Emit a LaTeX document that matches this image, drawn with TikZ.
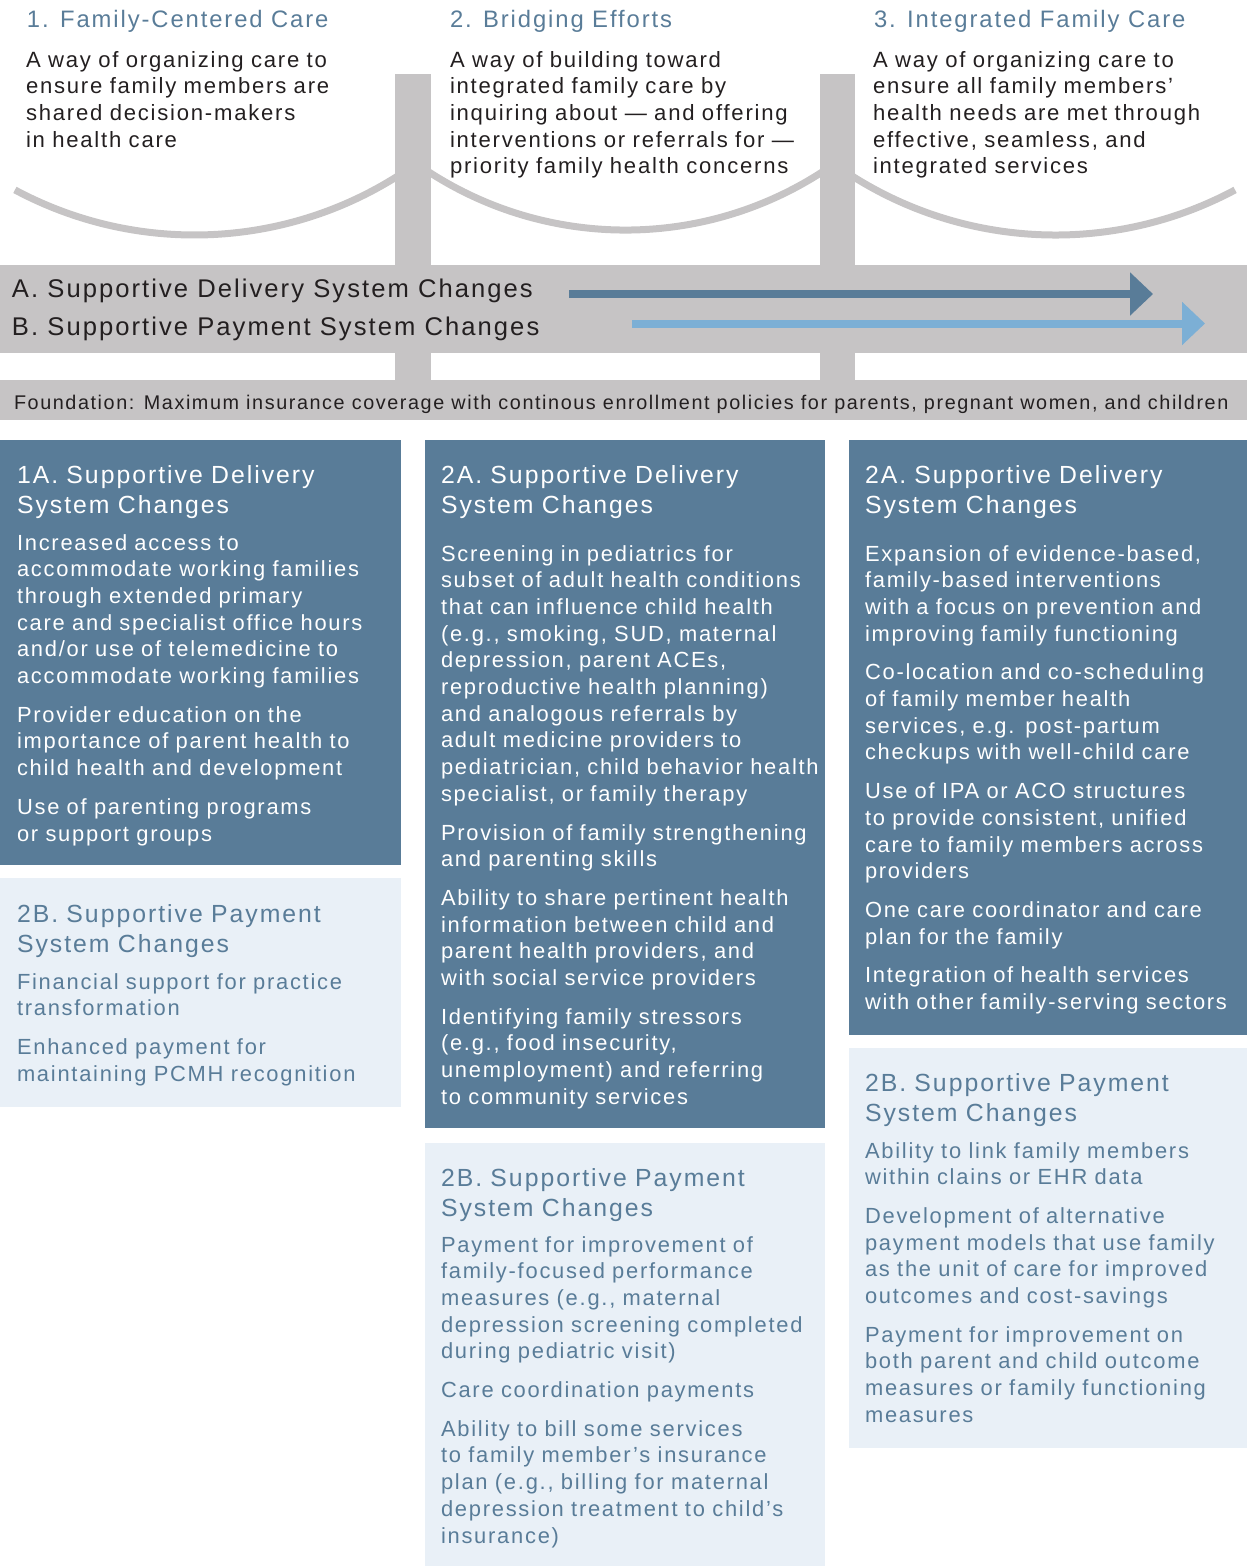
\documentclass[tikz,border=0pt]{standalone}
\usepackage{fontspec}
\setmainfont{Liberation Sans}[LetterSpace=8]
\usetikzlibrary{arrows.meta,positioning}

\definecolor{slate}{RGB}{89,124,152}
\definecolor{skyblue}{RGB}{124,175,213}
\definecolor{mist}{RGB}{233,240,247}
\definecolor{stone}{RGB}{198,196,197}
\definecolor{ink}{RGB}{35,31,32}

\begin{document}
\begin{tikzpicture}
	[
		x=1pt, y=-1pt,
		every node/.style={inner sep=0pt, outer sep=0pt},
		arc line/.style={draw=stone, line width=7pt},
		push arrow/.style={line width=8pt, -{Triangle[length=23pt,width=42pt]}}
	]
	
	\tikzstyle{Title} = [anchor=base west, text=slate, font=\fontsize{23.8}{30}\selectfont]
	\tikzstyle{Lead} = [anchor=base west, text=ink, align=left, text width=400pt, font=\fontsize{22.1}{26.7}\selectfont]
	\tikzstyle{Band} = [anchor=base west, text=ink, font=\fontsize{25.6}{30}\selectfont]
	\tikzstyle{DarkBox} = [rectangle, anchor=north west, fill=slate]
	\tikzstyle{PaleBox} = [rectangle, anchor=north west, fill=mist]
	\tikzstyle{Head} = [anchor=base west, align=left, text width=400pt, font=\fontsize{24.8}{30}\selectfont]
	\tikzstyle{Body} = [anchor=base west, align=left, text width=400pt, font=\fontsize{21.9}{26.7}\selectfont]
	
	\useasboundingbox (0,0) rectangle (1247,1566);
	
	% arcs behind the pillars
	\draw[arc line] (14.9,189.9) arc[start angle=118.2, end angle=55.5, radius=380];
	\draw[arc line] (414.8,162.4) arc[start angle=125.6, end angle=54.4, radius=362];
	\draw[arc line] (840.3,168.2) arc[start angle=124.5, end angle=61.8, radius=380];
	
	% pillars, band and foundation
	\fill[stone] (395,74) rectangle (431,380);
	\fill[stone] (820,74) rectangle (855,380);
	\fill[stone] (0,265) rectangle (1247,353);
	\fill[stone] (0,380) rectangle (1247,420);
	
	\node[Title] (t1) at (27,27) {1. Family-Centered Care};
	\node[Title] (t2) at (450,27) {2. Bridging Efforts};
	\node[Title] (t3) at (874,27) {3. Integrated Family Care};
	
	\node[Lead] (d1) at (26,67) {A way of organizing care to\\ensure family members are\\shared decision-makers\\in health care};
	\node[Lead] (d2) at (450,67) {A way of building toward\\integrated family care by\\inquiring about — and offering\\interventions or referrals for —\\priority family health concerns};
	\node[Lead] (d3) at (873,67) {A way of organizing care to\\ensure all family members’\\health needs are met through\\effective, seamless, and\\integrated services};
	
	\node[Band] (bandA) at (12,297) {A. Supportive Delivery System Changes};
	\node[Band] (bandB) at (12,335) {B. Supportive Payment System Changes};
	\node[anchor=base west, text=ink, font=\fontsize{19.8}{22}\selectfont] (found) at (14,409) {Foundation: Maximum insurance coverage with continous enrollment policies for parents, pregnant women, and children};
	
	\coordinate (aStart) at (569,294);
	\coordinate (aEnd) at (1153,294);
	\coordinate (bStart) at (632,323.5);
	\coordinate (bEnd) at (1205,323.5);
	\draw[push arrow, slate] (aStart) -- (aEnd);
	\draw[push arrow, skyblue] (bStart) -- (bEnd);
	
	% column 1
	\node[DarkBox, minimum width=401pt, minimum height=425pt] (box1A) at (0,440) {};
	\node[PaleBox, minimum width=401pt, minimum height=229pt] (box1B) at (0,878) {};
	\node[Head, text=white] (h1A) at (17,483) {1A. Supportive Delivery\\System Changes};
	\node[Body, text=white] (p1A) at (17,550) {Increased access to\\accommodate working families\\through extended primary\\care and specialist office hours\\and/or use of telemedicine to\\accommodate working families\\[12pt]Provider education on the\\importance of parent health to\\child health and development\\[12pt]Use of parenting programs\\or support groups};
	\node[Head, text=slate] (h1B) at (17,922) {2B. Supportive Payment\\System Changes};
	\node[Body, text=slate] (p1B) at (17,989) {Financial support for practice\\transformation\\[12pt]Enhanced payment for\\maintaining PCMH recognition};
	
	% column 2
	\node[DarkBox, minimum width=400pt, minimum height=688pt] (box2A) at (425,440) {};
	\node[PaleBox, minimum width=400pt, minimum height=423pt] (box2B) at (425,1143) {};
	\node[Head, text=white] (h2A) at (441,483) {2A. Supportive Delivery\\System Changes};
	\node[Body, text=white] (p2A) at (441,561) {Screening in pediatrics for\\subset of adult health conditions\\that can influence child health\\(e.g., smoking, SUD, maternal\\depression, parent ACEs,\\reproductive health planning)\\and analogous referrals by\\adult medicine providers to\\pediatrician, child behavior health\\specialist, or family therapy\\[12pt]Provision of family strengthening\\and parenting skills\\[12pt]Ability to share pertinent health\\information between child and\\parent health providers, and\\with social service providers\\[12pt]Identifying family stressors\\(e.g., food insecurity,\\unemployment) and referring\\to community services};
	\node[Head, text=slate] (h2B) at (441,1186) {2B. Supportive Payment\\System Changes};
	\node[Body, text=slate] (p2B) at (441,1252) {Payment for improvement of\\family-focused performance\\measures (e.g., maternal\\depression screening completed\\during pediatric visit)\\[12pt]Care coordination payments\\[12pt]Ability to bill some services\\to family member’s insurance\\plan (e.g., billing for maternal\\depression treatment to child’s\\insurance)};
	
	% column 3
	\node[DarkBox, minimum width=398pt, minimum height=595pt] (box3A) at (849,440) {};
	\node[PaleBox, minimum width=398pt, minimum height=400pt] (box3B) at (849,1048) {};
	\node[Head, text=white] (h3A) at (865,483) {2A. Supportive Delivery\\System Changes};
	\node[Body, text=white] (p3A) at (865,561) {Expansion of evidence-based,\\family-based interventions\\with a focus on prevention and\\improving family functioning\\[12pt]Co-location and co-scheduling\\of family member health\\services, e.g. post-partum\\checkups with well-child care\\[12pt]Use of IPA or ACO structures\\to provide consistent, unified\\care to family members across\\providers\\[12pt]One care coordinator and care\\plan for the family\\[12pt]Integration of health services\\with other family-serving sectors};
	\node[Head, text=slate] (h3B) at (865,1091) {2B. Supportive Payment\\System Changes};
	\node[Body, text=slate] (p3B) at (865,1158) {Ability to link family members\\within clains or EHR data\\[12pt]Development of alternative\\payment models that use family\\as the unit of care for improved\\outcomes and cost-savings\\[12pt]Payment for improvement on\\both parent and child outcome\\measures or family functioning\\measures};
\end{tikzpicture}
\end{document}
